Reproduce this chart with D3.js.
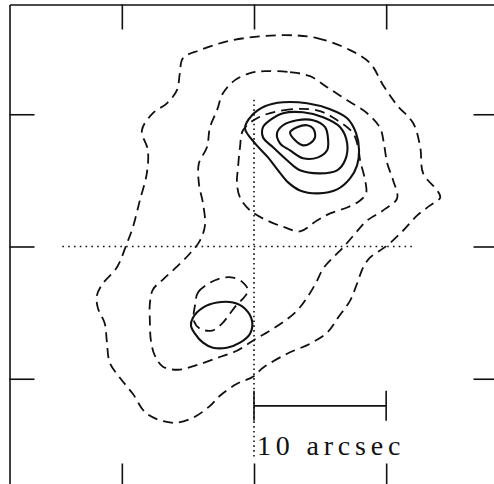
<!DOCTYPE html>
<html>
<head>
    <title>Contour map</title>
    <script type="text/javascript" src="https://cdn.jsdelivr.net/npm/d3@7"></script>
    <style>
        body { margin: 0; background: white; }
    </style>
</head>
<body>
<script type="text/javascript">
    // contour outlines, offsets in arcsec from the centre (x right, y up)
    var outerDashed = [[2.20,15.98],[4.77,15.76],[7.27,14.85],[8.79,13.86],[9.77,12.20],[10.83,10.68],[12.05,9.32],
        [12.58,7.50],[12.80,5.53],[13.86,4.24],[14.09,3.71],[13.33,3.11],[12.35,2.35],[11.29,1.21],[10.08,0.08],
        [8.79,-0.83],[8.26,-1.59],[7.80,-2.80],[7.27,-4.09],[6.36,-5.38],[5.53,-6.52],[4.24,-7.35],[2.50,-8.11],
        [0.68,-9.17],[-0.08,-9.85],[-1.29,-10.38],[-2.58,-11.29],[-3.33,-12.05],[-4.62,-12.95],[-6.14,-13.33],
        [-8.11,-12.65],[-9.17,-11.14],[-10.15,-9.92],[-10.91,-8.79],[-11.14,-7.12],[-11.29,-5.83],[-11.82,-4.62],
        [-11.89,-3.71],[-11.44,-2.80],[-10.38,-1.59],[-9.62,0.23],[-9.17,1.44],[-8.64,3.48],[-8.11,5.53],
        [-8.03,7.27],[-8.48,8.79],[-7.65,10.08],[-6.59,10.83],[-5.83,11.82],[-5.61,13.11],[-5.38,14.24],
        [-4.09,14.85],[-1.59,15.61]];
    var middleDashed = [[0.83,13.26],[2.73,13.18],[4.24,12.88],[5.53,12.05],[7.05,11.06],[8.56,10.08],[9.55,8.94],
        [9.85,7.65],[10.08,6.29],[10.53,5.00],[10.83,3.64],[9.77,2.73],[8.56,1.97],[7.65,0.98],[6.74,-0.08],
        [5.98,-0.83],[5.23,-1.67],[4.70,-2.73],[4.02,-3.86],[3.26,-4.85],[2.35,-5.61],[1.21,-6.36],[-0.08,-7.12],
        [-1.29,-7.88],[-2.73,-8.41],[-4.24,-8.94],[-5.76,-9.32],[-6.89,-9.09],[-7.50,-8.26],[-7.80,-7.12],
        [-7.88,-5.61],[-7.88,-4.32],[-7.65,-3.26],[-6.89,-2.50],[-5.83,-1.52],[-4.85,-0.53],[-4.09,0.45],
        [-3.71,1.59],[-3.86,3.26],[-4.17,4.77],[-4.17,6.29],[-3.56,7.50],[-3.33,9.02],[-2.80,10.30],
        [-2.35,11.59],[-1.44,12.58],[-0.30,13.11]];
    var innerDashedN = [[0.23,9.70],[2.20,10.30],[4.77,10.30],[6.29,9.55],[7.50,8.56],[7.88,7.50],[8.03,6.52],
        [8.41,5.00],[8.48,4.02],[8.03,3.48],[7.05,2.95],[5.76,2.50],[4.77,1.97],[3.48,1.14],[2.35,1.44],
        [0.98,1.97],[-0.30,2.73],[-1.06,3.71],[-1.29,4.77],[-1.21,5.98],[-1.06,7.50],[-0.83,8.79]];
    var innerDashedS = [[-4.47,-4.47],[-4.24,-3.48],[-3.56,-2.88],[-2.58,-2.42],[-1.59,-2.35],[-0.83,-2.73],
        [-0.45,-3.33],[-0.76,-3.86],[-1.29,-4.39],[-1.82,-5.08],[-2.42,-5.83],[-3.18,-6.36],[-4.09,-6.21],
        [-4.55,-5.61]];
    var solid1N = [[-0.68,8.94],[-0.15,9.92],[0.83,10.61],[2.20,10.91],[4.02,10.83],[5.76,10.38],[7.05,9.70],
        [7.73,8.56],[7.95,7.27],[7.80,6.14],[7.27,5.15],[6.29,4.32],[4.85,4.02],[3.48,4.24],[2.58,4.85],
        [1.82,5.76],[1.06,6.74],[0.08,7.80]];
    var solid1S = [[-4.62,-5.38],[-3.86,-4.62],[-2.80,-4.24],[-1.59,-4.24],[-0.68,-4.70],[-0.15,-5.61],
        [-0.30,-6.59],[-1.06,-7.27],[-2.05,-7.65],[-3.11,-7.65],[-3.86,-7.27],[-4.47,-6.59],[-4.77,-5.98]];
    var solid2 = [[0.68,9.02],[1.21,9.55],[2.20,10.08],[3.71,10.15],[5.23,9.77],[6.52,9.02],[7.05,7.80],
        [6.89,6.52],[6.29,5.76],[5.00,5.53],[3.48,5.76],[2.50,6.52],[1.44,7.50],[0.68,8.26]];
    var solid3 = [[1.74,8.56],[2.20,9.17],[3.26,9.55],[4.47,9.55],[5.38,9.02],[5.61,8.03],[5.53,7.27],
        [4.85,6.74],[3.71,6.67],[2.73,7.27],[1.97,7.80]];
    var solid4 = [[2.73,8.64],[3.26,9.02],[4.02,9.17],[4.47,8.94],[4.62,8.26],[4.24,7.80],[3.71,7.65],[3.11,8.03]];

    var dashedContours = [outerDashed, middleDashed, innerDashedN, innerDashedS];
    var solidContours = [solid1N, solid1S, solid2, solid3, solid4];

    // frame ticks every 10 arcsec, dotted cross through the centre, 10 arcsec bar
    var tickValues = [-10, 0, 10];
    var crossH = [-14.5, 12.0];
    var crossV = [11.1, -16.1];
    var barStart = 0, barEnd = 10, barY = -12.05;
    var barLabel = '10 arcsec';

    var width = 494;
    var height = 484;
    var svg = d3.select('body').append('svg')
                .attr('width', width)
                .attr('height', height);

    var x = d3.scaleLinear().domain([-18.5, 18.5]).range([9.5, 498.5]);
    var y = d3.scaleLinear().domain([18.3, -18.3]).range([4.5, 488.5]);

    var line = d3.line()
        .x(function(d) { return x(d[0]); })
        .y(function(d) { return y(d[1]); })
        .curve(d3.curveCatmullRomClosed.alpha(0.5));

    // frame with inward ticks
    var tickLen = -25;
    svg.append('g').attr('class', 'axis').attr('transform', 'translate(0,' + y.range()[0] + ')')
        .call(d3.axisTop(x).tickValues(tickValues).tickSizeInner(tickLen).tickSizeOuter(0).tickFormat(''));
    svg.append('g').attr('class', 'axis').attr('transform', 'translate(0,' + y.range()[1] + ')')
        .call(d3.axisBottom(x).tickValues(tickValues).tickSizeInner(tickLen).tickSizeOuter(0).tickFormat(''));
    svg.append('g').attr('class', 'axis').attr('transform', 'translate(' + x.range()[0] + ',0)')
        .call(d3.axisLeft(y).tickValues(tickValues).tickSizeInner(tickLen).tickSizeOuter(0).tickFormat(''));
    svg.append('g').attr('class', 'axis').attr('transform', 'translate(' + x.range()[1] + ',0)')
        .call(d3.axisRight(y).tickValues(tickValues).tickSizeInner(tickLen).tickSizeOuter(0).tickFormat(''));
    svg.selectAll('.axis path, .axis line')
        .attr('stroke', '#111')
        .attr('stroke-width', 1.6);

    // dotted cross
    svg.append('line')
        .attr('x1', x(crossH[0])).attr('x2', x(crossH[1]))
        .attr('y1', y(0)).attr('y2', y(0))
        .attr('stroke', '#111').attr('stroke-width', 1.6)
        .attr('stroke-dasharray', '1.6,4.2');
    svg.append('line')
        .attr('x1', x(0)).attr('x2', x(0))
        .attr('y1', y(crossV[0])).attr('y2', y(crossV[1]))
        .attr('stroke', '#111').attr('stroke-width', 1.6)
        .attr('stroke-dasharray', '1.6,3.2');

    svg.append('g').attr('class', 'dashed')
        .selectAll('path').data(dashedContours).enter()
        .append('path')
        .attr('d', line)
        .attr('fill', 'none')
        .attr('stroke', '#111')
        .attr('stroke-width', 1.8)
        .attr('stroke-dasharray', '10,6');

    svg.append('g').attr('class', 'solid')
        .selectAll('path').data(solidContours).enter()
        .append('path')
        .attr('d', line)
        .attr('fill', 'none')
        .attr('stroke', '#111')
        .attr('stroke-width', 2.1);

    // scale bar
    var bar = svg.append('g').attr('stroke', '#111').attr('stroke-width', 1.6);
    bar.append('line')
        .attr('x1', x(barStart)).attr('x2', x(barEnd))
        .attr('y1', y(barY)).attr('y2', y(barY));
    bar.selectAll('.end').data([barStart, barEnd]).enter()
        .append('line')
        .attr('x1', function(d) { return x(d); }).attr('x2', function(d) { return x(d); })
        .attr('y1', y(barY) - 15).attr('y2', y(barY) + 15);

    svg.append('text')
        .attr('x', x(barStart) + 3)
        .attr('y', y(barY) + 49)
        .attr('font-family', 'Liberation Serif, serif')
        .attr('font-size', 28)
        .attr('letter-spacing', 4.8)
        .attr('fill', '#111')
        .text(barLabel);
</script>
</body>
</html>
